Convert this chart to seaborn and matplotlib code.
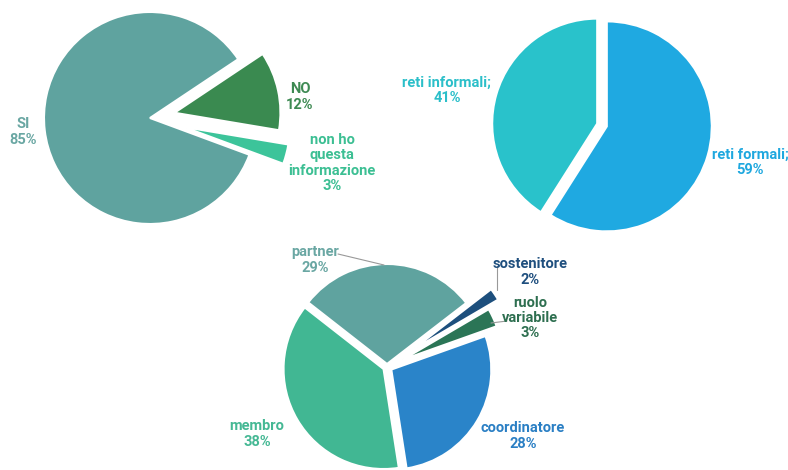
import numpy as np
import matplotlib
matplotlib.use("Agg")
import matplotlib.pyplot as plt
import seaborn as sns

# Data
aff_labels = ["SI", "non ho\nquesta\ninformazione", "NO"]
aff_values = [85, 3, 12]
aff_colors = ["#5fa39f", "#3cc49a", "#3a8a50"]
aff_text = ["#6aa7a3", "#3cbf93", "#3e8a53"]

reti_labels = ["reti formali;", "reti informali;"]
reti_values = [59, 41]
reti_colors = ["#1fa9e1", "#29c2cb"]
reti_text = ["#1fa8df", "#2bbfc9"]

ruolo_labels = ["partner", "sostenitore", "ruolo\nvariabile", "coordinatore", "membro"]
ruolo_values = [29, 2, 3, 28, 38]
ruolo_colors = ["#5fa39f", "#1d4f7d", "#2b7556", "#2a84c9", "#41b793"]
ruolo_text = ["#6aa7a3", "#1f4f7e", "#2e6f50", "#2a7fc4", "#45b894"]

sns.set_theme(style="white")
plt.rcParams['font.family'] = ['Roboto', 'DejaVu Sans']

fig = plt.figure(figsize=(7.88, 4.70), dpi=100)
ax = fig.add_axes([0, 0, 1, 1])

H = 470


def pie(values, colors, center, radius, start, ccw, explode):
    # explode is in data units (pixels here)
    wedges, _ = ax.pie(values, colors=colors, center=(center[0], H - center[1]),
                       radius=radius, startangle=start, counterclock=ccw,
                       explode=explode, frame=True,
                       wedgeprops=dict(edgecolor="white", linewidth=1.5))
    return wedges


def label(txt, pct, pos, color):
    ax.text(pos[0], H - pos[1], f"{txt}\n{pct}%", ha="center", va="center",
            color=color, fontsize=10.5, fontweight="bold", linespacing=1.1)


# Pie 1
pie(aff_values, aff_colors, (150, 118), 106, 33.7, True, [0, 35, 25])
aff_pos = [(23, 132), (332, 163), (300, 97)]
for t, v, p, c in zip(aff_labels, aff_values, aff_pos, aff_text):
    label(t, v, p, c)

# Pie 2
pie(reti_values, reti_colors, (602, 125), 105, 90, False, [5, 5])
reti_pos = [(750, 162), (447, 90)]
for t, v, p, c in zip(reti_labels, reti_values, reti_pos, reti_text):
    label(t, v, p, c)

# Pie 3
pie(ruolo_values, ruolo_colors, (387, 367), 100, 142, False, [3, 30, 17, 5, 4])
ruolo_pos = [(315, 260), (530, 272), (530, 318), (523, 436), (257, 434)]
for t, v, p, c in zip(ruolo_labels, ruolo_values, ruolo_pos, ruolo_text):
    label(t, v, p, c)

# leader lines
ax.plot([338, 384], [H - 254, H - 265], color="#999999", lw=0.8)
ax.plot([497, 497], [H - 266, H - 290], color="#999999", lw=0.8)
ax.plot([491, 507], [H - 323, H - 321], color="#999999", lw=0.8)

ax.set_xlim(0, 788)
ax.set_ylim(0, 470)
ax.set_aspect('equal')
ax.axis('off')

fig.savefig("out.png", dpi=100)
